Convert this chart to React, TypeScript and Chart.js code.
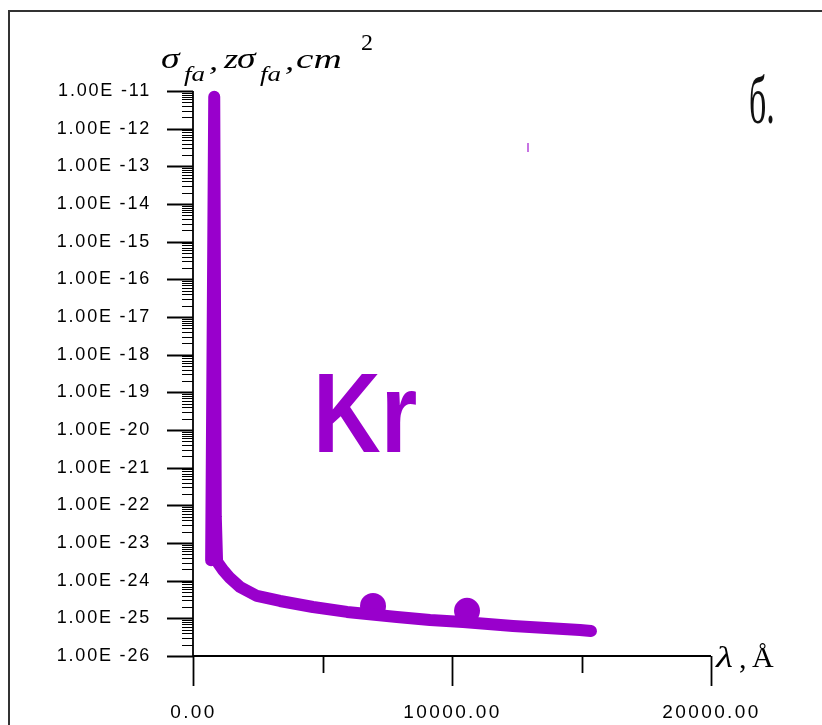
import { useEffect, useRef } from "react";
import { Chart, registerables } from "chart.js";

Chart.register(...registerables);

// Main curve: wavelength (Å) vs cross-section (cm^2)
const wavelengths = [700, 820, 880, 930, 1158, 1429, 1815, 2471, 3359, 4633, 5946, 7876, 9151, 10425, 12355, 14942, 15367];
const crossSections = [3.5e-24, 7.0e-12, 5.0e-23, 3.2e-24, 1.92e-24, 1.17e-24, 6.8e-25, 3.93e-25, 2.89e-25, 2.0e-25, 1.48e-25, 1.09e-25, 9.06e-26, 8.0e-26, 6.28e-26, 4.92e-26, 4.62e-26];

// Marker points
const markerWavelengths = [6950, 10580];
const markerValues = [2.14e-25, 1.58e-25];

// Small stray mark
const strayWavelengths = [12934];
const strayValues = [3.16e-13];

// Axis ticks
const xTickValues = [0, 10000, 20000];
const xTickLabels = ["0.00", "10000.00", "20000.00"];
const xMinorTickValues = [5000, 15000];
const yDecadeExponents = [-11, -12, -13, -14, -15, -16, -17, -18, -19, -20, -21, -22, -23, -24, -25, -26];
const yTickLabels = [
  "1.00E -11", "1.00E -12", "1.00E -13", "1.00E -14", "1.00E -15", "1.00E -16",
  "1.00E -17", "1.00E -18", "1.00E -19", "1.00E -20", "1.00E -21", "1.00E -22",
  "1.00E -23", "1.00E -24", "1.00E -25", "1.00E -26",
];

const PURPLE = "#9900CC";

function drawText(ctx: CanvasRenderingContext2D, text: string, x: number, y: number, font: string, scaleX = 1, color = "#000") {
  ctx.save();
  ctx.font = font;
  ctx.fillStyle = color;
  ctx.textAlign = "left";
  ctx.textBaseline = "alphabetic";
  ctx.translate(x, y);
  ctx.scale(scaleX, 1);
  ctx.fillText(text, 0, 0);
  ctx.restore();
}

const decorPlugin = {
  id: "decor",
  beforeDatasetsDraw(chart: any) {
    const ctx: CanvasRenderingContext2D = chart.ctx;
    const xS = chart.scales.x;
    const yS = chart.scales.y;
    const x0 = Math.round(xS.getPixelForValue(0));
    const x1 = Math.round(xS.getPixelForValue(20000));
    const yt = Math.round(yS.getPixelForValue(1e-11));
    const yb = Math.round(yS.getPixelForValue(1e-26));

    ctx.save();
    // outer frame
    ctx.strokeStyle = "#333";
    ctx.lineWidth = 2;
    ctx.strokeRect(9, 11, 900, 900);

    ctx.strokeStyle = "#000";
    ctx.lineCap = "butt";
    const line = (ax: number, ay: number, bx: number, by: number, w: number) => {
      ctx.lineWidth = w;
      ctx.beginPath();
      ctx.moveTo(ax, ay);
      ctx.lineTo(bx, by);
      ctx.stroke();
    };
    // axes
    line(x0, yt, x0, yb + 1, 1.8);
    line(x0, yb, x1, yb, 1.8);

    // y ticks
    ctx.fillStyle = "#000";
    ctx.font = '18px "Liberation Sans", Arial, sans-serif';
    (ctx as any).letterSpacing = "1.8px";
    ctx.textAlign = "right";
    ctx.textBaseline = "middle";
    yDecadeExponents.forEach((d, i) => {
      const v = Math.pow(10, d);
      const p = Math.round(yS.getPixelForValue(v)) + 0.5;
      line(x0 - 26, p, x0, p, 2);
      if (i < yDecadeExponents.length - 1) {
        for (let m = 2; m <= 9; m++) {
          const mv = m * Math.pow(10, d - 1);
          const mp = Math.round(yS.getPixelForValue(mv)) + 0.5;
          line(x0 - 11, mp, x0, mp, 1);
        }
      }
      ctx.fillText(yTickLabels[i], 151, p);
    });

    // x ticks
    ctx.font = '19px "Liberation Sans", Arial, sans-serif';
    (ctx as any).letterSpacing = "2.4px";
    ctx.textAlign = "center";
    ctx.textBaseline = "alphabetic";
    xTickValues.forEach((v, i) => {
      const p = Math.round(xS.getPixelForValue(v)) + 0.5;
      line(p, yb, p, yb + 30, 1.8);
      ctx.fillText(xTickLabels[i], p, 718);
    });
    xMinorTickValues.forEach((v) => {
      const p = Math.round(xS.getPixelForValue(v)) + 0.5;
      line(p, yb, p, yb + 17, 1.8);
    });
    (ctx as any).letterSpacing = "0px";
    ctx.restore();
  },
  afterDraw(chart: any) {
    const ctx: CanvasRenderingContext2D = chart.ctx;
    const serifI = (s: number) => `italic ${s}px "Liberation Serif", "Times New Roman", serif`;
    const serif = (s: number) => `${s}px "Liberation Serif", "Times New Roman", serif`;
    // y-axis title
    drawText(ctx, "σ", 161, 68, serifI(29), 1.3);
    drawText(ctx, "fa", 184, 81, serifI(20), 1.35);
    drawText(ctx, ",", 209, 70, serifI(28), 1.3);
    drawText(ctx, "z", 224, 68, serifI(28), 1.3);
    drawText(ctx, "σ", 237, 68, serifI(29), 1.3);
    drawText(ctx, "fa", 260, 81, serifI(20), 1.35);
    drawText(ctx, ",", 285, 70, serifI(28), 1.3);
    drawText(ctx, "cm", 296, 68, serifI(28), 1.4);
    drawText(ctx, "2", 361, 50, serif(24), 1.0);
    // x-axis title
    drawText(ctx, "λ", 716, 667, serifI(30), 1.3);
    drawText(ctx, ",", 739, 668, serif(30), 1.0);
    drawText(ctx, "Å", 752, 667, serif(30), 1.0);
    // panel letter
    drawText(ctx, "б.", 749, 123, `${68}px "Liberation Serif", "Times New Roman", serif`, 0.5, "#111");
    // element label
    drawText(ctx, "Kr", 313, 452, 'bold 113px "Liberation Sans", Arial, sans-serif', 0.83, PURPLE);
  },
};

export default function App() {
  const ref = useRef<HTMLCanvasElement | null>(null);

  useEffect(() => {
    if (!ref.current) return;
    const curve = wavelengths.map((x, i) => ({ x, y: crossSections[i] }));
    const markers = markerWavelengths.map((x, i) => ({ x, y: markerValues[i] }));
    const stray = strayWavelengths.map((x, i) => ({ x, y: strayValues[i] }));
    const chart = new Chart(ref.current, {
      type: "line",
      data: {
        datasets: [
          {
            data: curve,
            borderColor: PURPLE,
            backgroundColor: PURPLE,
            borderWidth: 12,
            borderCapStyle: "round",
            borderJoinStyle: "round",
            pointRadius: 0,
            tension: 0,
            fill: false,
            clip: false as any,
          },
          {
            data: markers,
            showLine: false,
            pointRadius: 13,
            pointStyle: "circle",
            backgroundColor: PURPLE,
            borderColor: PURPLE,
            borderWidth: 0,
            clip: false as any,
          },
          {
            data: stray,
            showLine: false,
            pointStyle: "line",
            rotation: 90,
            pointRadius: 4.5,
            borderWidth: 2,
            borderColor: "rgba(153,0,204,0.55)",
            backgroundColor: "rgba(153,0,204,0.55)",
            clip: false as any,
          },
        ],
      },
      options: {
        responsive: false,
        animation: false,
        devicePixelRatio: 1,
        layout: { padding: { left: 193, right: 111, top: 91, bottom: 69 } },
        plugins: { legend: { display: false }, tooltip: { enabled: false } },
        events: [],
        scales: {
          x: { type: "linear", min: 0, max: 20000, display: false },
          y: { type: "logarithmic", min: 1e-26, max: 1e-11, display: false },
        },
      },
      plugins: [decorPlugin],
    });
    return () => chart.destroy();
  }, []);

  return (
    <div style={{ position: "absolute", left: 0, top: 0, width: 822, height: 725, background: "#fff" }}>
      <canvas ref={ref} width={822} height={725} style={{ width: 822, height: 725, display: "block" }} />
    </div>
  );
}
